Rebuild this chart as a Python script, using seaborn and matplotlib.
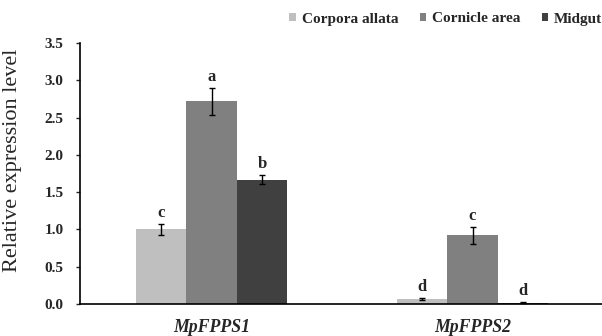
import matplotlib
matplotlib.use("Agg")
import matplotlib.pyplot as plt
import seaborn as sns
import pandas as pd

genes = ["MpFPPS1", "MpFPPS2"]
tissues = ["Corpora allata", "Cornicle area", "Midgut"]
means = {
    "Corpora allata": [1.00, 0.07],
    "Cornicle area": [2.72, 0.92],
    "Midgut": [1.67, 0.02],
}
errors = {
    "Corpora allata": [0.08, 0.01],
    "Cornicle area": [0.18, 0.12],
    "Midgut": [0.06, 0.01],
}
letters = {
    "Corpora allata": ["c", "d"],
    "Cornicle area": ["a", "c"],
    "Midgut": ["b", "d"],
}
colors = ["#bfbfbf", "#808080", "#404040"]

rows = []
for t in tissues:
    for g, m in zip(genes, means[t]):
        rows.append({"gene": g, "tissue": t, "value": m})
df = pd.DataFrame(rows)

sns.set_style("white")
plt.rcParams["font.family"] = ["Liberation Serif", "DejaVu Serif"]

fig = plt.figure(figsize=(6.02, 3.36), dpi=100)
ax = fig.add_axes([0.133, 0.095, 0.867, 0.777])

sns.barplot(data=df, x="gene", y="value", hue="tissue", order=genes,
            hue_order=tissues, palette=colors, width=0.58, errorbar=None,
            saturation=1, ax=ax, linewidth=0)

# error bars and significance letters on each bar
for i, t in enumerate(tissues):
    cont = ax.containers[i]
    for j, patch in enumerate(cont.patches):
        x = patch.get_x() + patch.get_width() / 2
        m = means[t][j]
        e = errors[t][j]
        ax.errorbar(x, m, yerr=e, fmt="none", ecolor="black", elinewidth=1.0,
                    capsize=2.5, capthick=1.0)
        ax.annotate(letters[t][j], (x, m + e), xytext=(0, 2),
                    textcoords="offset points", ha="center", va="bottom",
                    fontsize=12, fontweight="bold")

ax.set_xlim(-0.504, 1.496)
ax.set_ylim(0, 3.5)
ax.set_yticks([0, 0.5, 1.0, 1.5, 2.0, 2.5, 3.0, 3.5])
ax.set_yticklabels([f"{v:.1f}" for v in ax.get_yticks()], fontweight="bold",
                   fontsize=11)
ax.set_xticks([0, 1])
ax.set_xticklabels(genes, fontweight="bold", fontstyle="italic", fontsize=12.8)
ax.tick_params(axis="y", direction="out", length=3, width=1, left=True,
               pad=9)
ax.tick_params(axis="x", length=0, pad=11)
ax.set_xlabel("")
ax.set_ylabel("Relative expression level", fontsize=16)
ax.yaxis.set_label_coords(-0.112, 0.55)

for s in ["top", "right"]:
    ax.spines[s].set_visible(False)
for s in ["left", "bottom"]:
    ax.spines[s].set_color("black")
    ax.spines[s].set_linewidth(1.2)

leg = ax.legend(loc="center right", bbox_to_anchor=(1.0, 1 - 19 / 336),
                bbox_transform=fig.transFigure, ncol=3, frameon=False,
                borderpad=0, borderaxespad=0,
                handlelength=0.45, handleheight=0.45, handletextpad=0.35,
                columnspacing=1.4, prop={"weight": "bold", "size": 11})

fig.savefig("out.png", dpi=100)
